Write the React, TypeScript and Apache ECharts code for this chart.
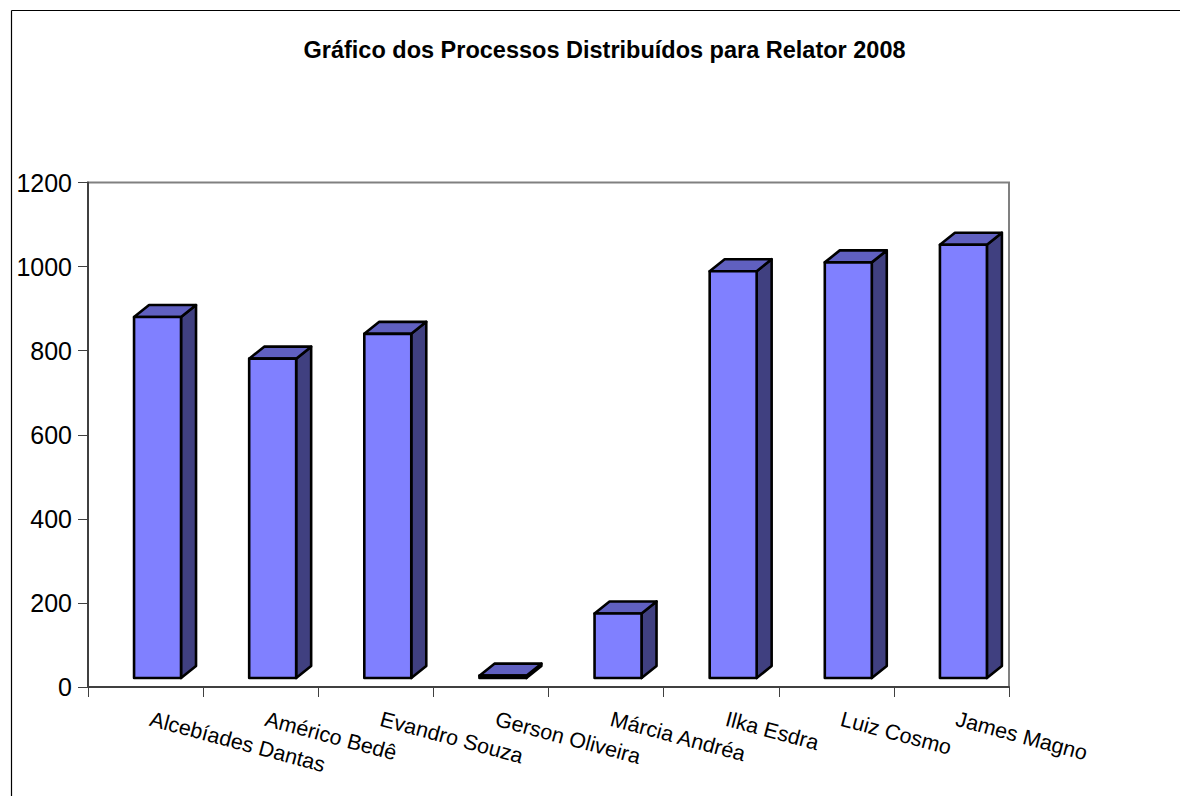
import React, { useEffect, useRef } from "react";
import * as echarts from "echarts";

const TITLE = "Gráfico dos Processos Distribuídos para Relator 2008";
const categories = ["Alcebíades Dantas", "Américo Bedê", "Evandro Souza", "Gerson Oliveira", "Márcia Andréa", "Ilka Esdra", "Luiz Cosmo", "James Magno"];
const values = [880, 781, 840, 27, 175, 989, 1010, 1052];
const yTicks = { min: 0, max: 1200, interval: 200 };
const FONT = "'Liberation Sans', Arial, sans-serif";

export default function App() {
  const ref = useRef<HTMLDivElement>(null);
  useEffect(() => {
    const chart = echarts.init(ref.current!, undefined, { renderer: "svg" });
    chart.setOption({
      animation: false,
      backgroundColor: "#ffffff",
      title: {
        text: TITLE,
        left: 599.5,
        top: 33,
        textAlign: "center",
        textStyle: { fontFamily: FONT, fontSize: 23.5, fontWeight: "bold", color: "#000" },
      },
      grid: { left: 88, top: 182.5, width: 921, height: 504.5, show: true, borderColor: "#808080", borderWidth: 2, backgroundColor: "transparent" },
      xAxis: {
        type: "category",
        data: categories,
        boundaryGap: true,
        axisLine: { lineStyle: { color: "#404040", width: 2 } },
        axisTick: { show: true, alignWithLabel: false, interval: 0, length: 10, lineStyle: { color: "#404040", width: 1 } },
        axisLabel: {
          interval: 0,
          rotate: -15,
          margin: 19,
          padding: [0, 0, 0, 8],
          align: "left",
          verticalAlign: "top",
          fontFamily: FONT,
          fontSize: 21.5,
          color: "#000",
        },
      },
      yAxis: {
        type: "value",
        min: yTicks.min,
        max: yTicks.max,
        interval: yTicks.interval,
        splitLine: { show: false },
        axisLine: { show: true, lineStyle: { color: "#404040", width: 2 } },
        axisTick: { show: true, length: 10, lineStyle: { color: "#404040", width: 1 } },
        axisLabel: { margin: 15, padding: [0, 1, 2, 0], fontFamily: FONT, fontSize: 25, color: "#000", formatter: (v: number) => String(v) },
      },
      series: [
        {
          type: "custom",
          clip: false,
          data: values.map((v, i) => [i, v]),
          encode: { x: 0, y: 1 },
          renderItem: (_p: any, api: any) => {
            const [cx, yTop] = api.coord([api.value(0), api.value(1)]);
            const band = api.size([1, 0])[0];
            const [, y0] = api.coord([api.value(0), 0]);
            const w = band * 0.408;
            const x0 = cx - band * 0.1;
            const x1 = x0 + w;
            const yBase = y0 - 9;
            const dx = 15;
            const dy = 12;
            const stroke = { stroke: "#000", lineWidth: 2.6, lineJoin: "round" };
            return {
              type: "group",
              children: [
                { type: "polygon", shape: { points: [[x1, yTop], [x1 + dx, yTop - dy], [x1 + dx, yBase - dy], [x1, yBase]] }, style: { fill: "#404080", ...stroke } },
                { type: "polygon", shape: { points: [[x0, yTop], [x0 + dx, yTop - dy], [x1 + dx, yTop - dy], [x1, yTop]] }, style: { fill: "#6060C0", ...stroke } },
                { type: "polygon", shape: { points: [[x0, yTop], [x1, yTop], [x1, yBase], [x0, yBase]] }, style: { fill: "#8080FF", ...stroke } },
              ],
            };
          },
        },
      ],
      graphic: [
        { type: "line", shape: { x1: 11.5, y1: 10.5, x2: 1180, y2: 10.5 }, style: { stroke: "#000", lineWidth: 1.2 } },
        { type: "line", shape: { x1: 11.5, y1: 10.5, x2: 11.5, y2: 796 }, style: { stroke: "#000", lineWidth: 1.2 } },
      ],
    });
    return () => chart.dispose();
  }, []);
  return <div ref={ref} style={{ position: "fixed", left: 0, top: 0, width: 1180, height: 796 }} />;
}
